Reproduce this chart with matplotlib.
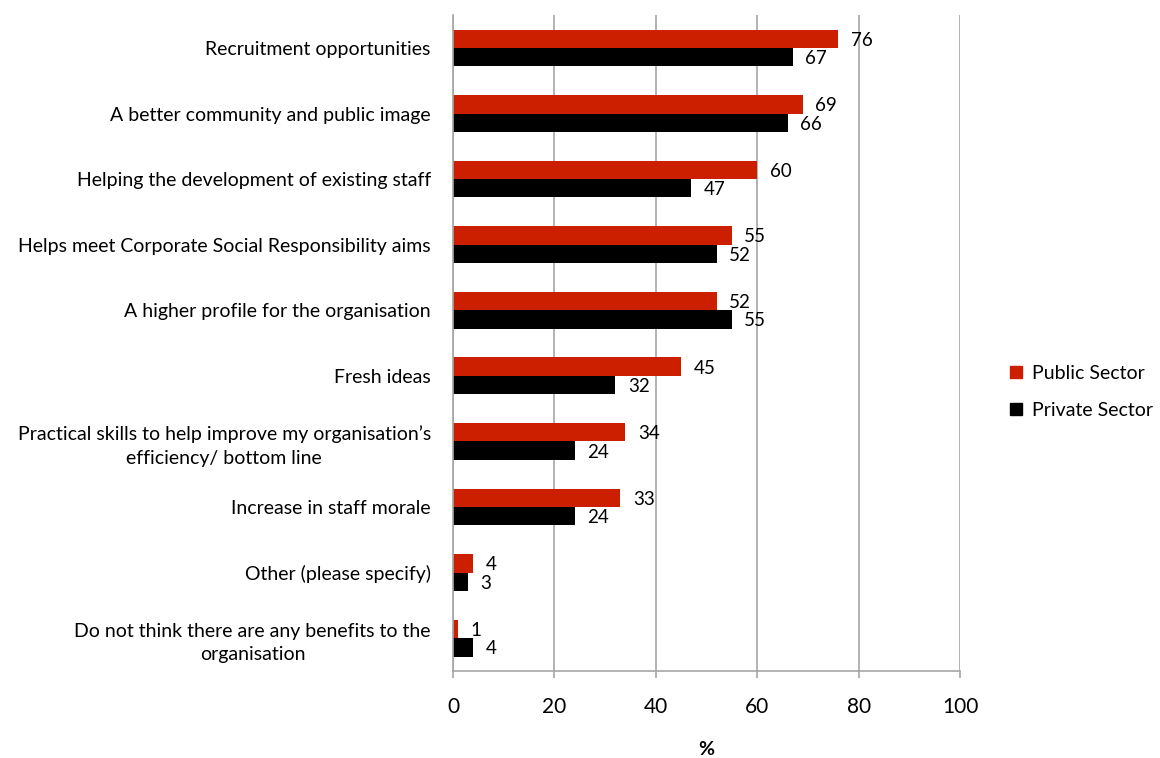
import numpy as np
import matplotlib.pyplot as plt
from matplotlib.patches import Patch

plt.rcParams['font.family'] = ['Lato', 'DejaVu Sans']

categories = [
    "Recruitment opportunities",
    "A better community and public image",
    "Helping the development of existing staff",
    "Helps meet Corporate Social Responsibility aims",
    "A higher profile for the organisation",
    "Fresh ideas",
    "Practical skills to help improve my organisation\u2019s\nefficiency/ bottom line",
    "Increase in staff morale",
    "Other (please specify)",
    "Do not think there are any benefits to the\norganisation",
]
public = [76, 69, 60, 55, 52, 45, 34, 33, 4, 1]
private = [67, 66, 47, 52, 55, 32, 24, 24, 3, 4]
ticks = [0, 20, 40, 60, 80, 100]

RED = '#cc1f00'
BLACK = '#000000'
GRID = '#a6a6a6'
FS = 14

fig = plt.figure(figsize=(11.6, 7.58), dpi=100)
ax = fig.add_axes([0.3905, 0.1148, 0.4371, 0.8652])

y = np.arange(len(categories))
h = 0.28
ax.barh(y - h / 2, public, height=h, color=RED, label='Public Sector')
ax.barh(y + h / 2, private, height=h, color=BLACK, label='Private Sector')

for yi, v in zip(y, public):
    ax.annotate(str(v), (v, yi - h / 2), xytext=(9, -1), textcoords='offset points',
                va='center', ha='left', fontsize=13.5)
for yi, v in zip(y, private):
    ax.annotate(str(v), (v, yi + h / 2), xytext=(9, -1), textcoords='offset points',
                va='center', ha='left', fontsize=13.5)

ax.set_xlim(0, 100)
ax.set_ylim(len(categories) - 0.5, -0.5)
ax.set_xticks(ticks)
ax.set_xticklabels([str(t) for t in ticks], fontsize=15)
ax.set_yticks(y)
ax.set_yticklabels(categories, fontsize=FS, multialignment='center', linespacing=1.45)
ax.tick_params(axis='y', length=0, pad=16)
ax.tick_params(axis='x', length=5, width=1.2, color=GRID, pad=14, direction='out')
ax.grid(axis='x', color=GRID, linewidth=1.2)
ax.set_axisbelow(True)
for side in ['top', 'right']:
    ax.spines[side].set_visible(False)
ax.spines['left'].set_color(GRID)
ax.spines['bottom'].set_color(GRID)
ax.spines['left'].set_linewidth(1.2)
ax.spines['bottom'].set_linewidth(1.2)

ax.set_xlabel('%', fontsize=14, fontweight='bold', labelpad=17)

handles = [Patch(color=RED, label='Public Sector'), Patch(color=BLACK, label='Private Sector')]
fig.legend(handles=handles, loc='center left', bbox_to_anchor=(0.871, 0.483), frameon=False,
           borderaxespad=0, borderpad=0,
           fontsize=14, handlelength=0.6, handleheight=0.6, handletextpad=0.5, labelspacing=1.0)

fig.savefig('out.png', dpi=100)
